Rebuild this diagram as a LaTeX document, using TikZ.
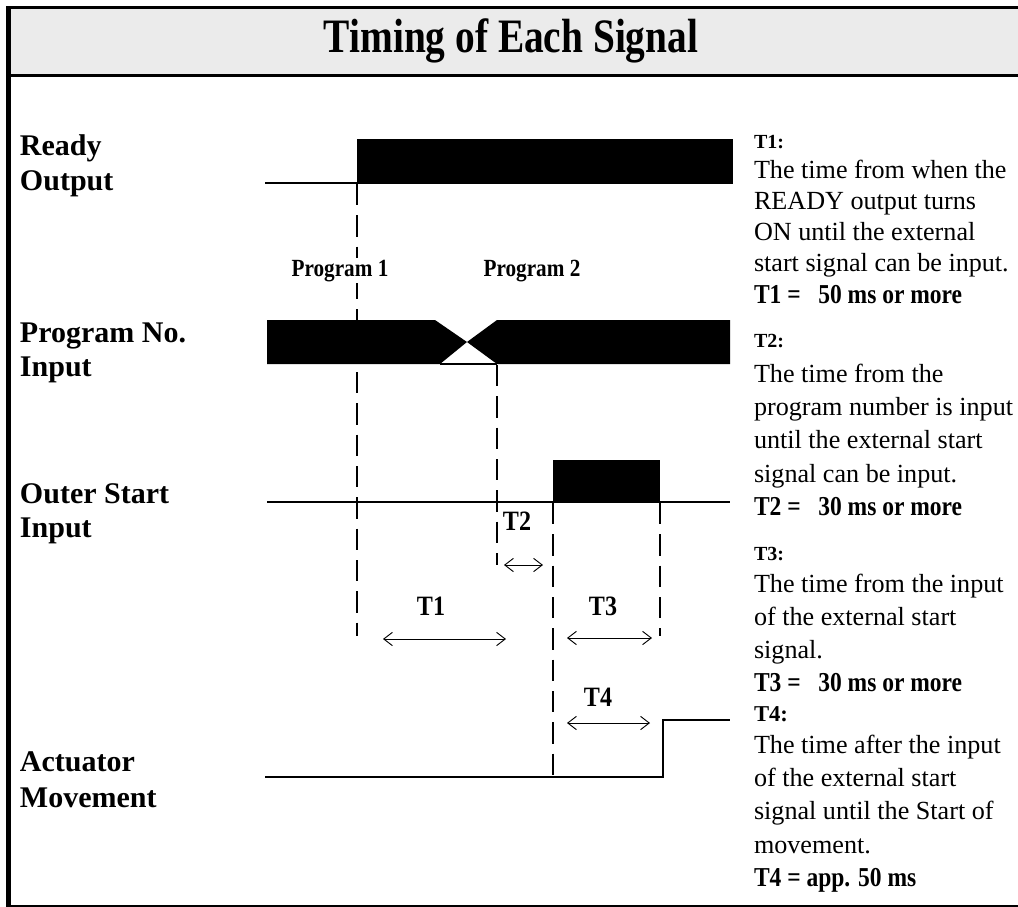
\documentclass[tikz,border=0pt]{standalone}
\usepackage{fontspec}
\setmainfont{Liberation Serif}
\newfontfamily\narrowserif[FakeStretch=0.86]{Liberation Serif}
\newfontfamily\titleserif[FakeStretch=0.82]{Liberation Serif}
\usetikzlibrary{arrows.meta}

\begin{document}
\begin{tikzpicture}[x=0.75pt,y=-0.75pt,
  txt/.style={anchor=base west,inner sep=0pt,outer sep=0pt},
  siglabel/.style={txt,font=\fontsize{22.5}{26}\selectfont\bfseries},
  desc/.style={txt,font=\fontsize{19.6}{23}\selectfont},
  deschead/.style={txt,font=\fontsize{15}{18}\selectfont\bfseries},
  descres/.style={txt,font=\narrowserif\fontsize{20.5}{24}\selectfont\bfseries},
  tlabel/.style={anchor=base,inner sep=0pt,font=\narrowserif\fontsize{21}{24}\selectfont\bfseries},
  proglabel/.style={anchor=base,inner sep=1pt,fill=white,font=\narrowserif\fontsize{18.5}{22}\selectfont\bfseries},
  wire/.style={line width=1.5pt},
  guide/.style={line width=1.5pt,dash pattern=on 16pt off 7.5pt},
  span/.style={line width=0.7pt,{Straight Barb[length=6.5pt,width=10pt]}-{Straight Barb[length=6.5pt,width=10pt]}}
]
\useasboundingbox (0,0) rectangle (1018,907);

% frame and title band
\fill[fill={rgb,255:red,235;green,235;blue,235}] (10,9) rectangle (1018,74);
\draw[line width=2.25pt] (6,7.5) -- (1018,7.5);
\draw[line width=2.6pt] (6,75.5) -- (1018,75.5);
\draw[line width=3.4pt] (8.3,6) -- (8.3,907);
\draw[line width=1.5pt] (6,905.8) -- (1018,905.8);
\node[inner sep=0pt,font=\titleserif\fontsize{36}{42}\selectfont\bfseries] (title) at (511,41) {Timing of Each Signal};

% signal names
\node[siglabel] (rdy1) at (20,155) {Ready};
\node[siglabel] (rdy2) at (20,190) {Output};
\node[siglabel] (prg1) at (20,342) {Program No.};
\node[siglabel] (prg2) at (20,376) {Input};
\node[siglabel] (st1) at (20,503) {Outer Start};
\node[siglabel] (st2) at (20,537) {Input};
\node[siglabel] (act1) at (20,771) {Actuator};
\node[siglabel] (act2) at (20,807) {Movement};

% READY output
\draw[wire] (265,183) -- (357,183);
\fill (357,138.5) rectangle (733,183.5);

% program number input
\fill (267,320) -- (435,320) -- (467,342) -- (440,364) -- (267,364) -- cycle;
\fill (467,342) -- (497,320) -- (730,320) -- (730,364) -- (497,364) -- cycle;
\draw[line width=0.8pt] (440,364) -- (497,364);

% outer start input
\draw[wire] (267,502) -- (553,502);
\fill (553,460) rectangle (660,503);
\draw[wire] (660,502) -- (730,502);

% actuator movement
\draw[wire] (265,777) -- (663,777) -- (663,720) -- (730,720);

% reference lines
\coordinate (g1a) at (357,184); \coordinate (g1b) at (357,636);
\coordinate (g2a) at (497,365); \coordinate (g2b) at (497,565);
\coordinate (g3a) at (553,503); \coordinate (g3b) at (553,776);
\coordinate (g4a) at (660,503); \coordinate (g4b) at (660,636);
\draw[guide] (g1a) -- (g1b);
\draw[guide] (g2a) -- (g2b);
\draw[guide] (g3a) -- (g3b);
\draw[guide] (g4a) -- (g4b);

% program labels sit over the first reference line
\node[proglabel] (p1) at (340,276) {Program 1};
\node[proglabel] (p2) at (532,276) {Program 2};

% interval spans
\coordinate (t1a) at (383,639); \coordinate (t1b) at (506,639);
\coordinate (t2a) at (504,565); \coordinate (t2b) at (543,565);
\coordinate (t3a) at (567,638); \coordinate (t3b) at (652,638);
\coordinate (t4a) at (567,723); \coordinate (t4b) at (650,723);
\draw[span] (t1a) -- (t1b);
\draw[span] (t2a) -- (t2b);
\draw[span] (t3a) -- (t3b);
\draw[span] (t4a) -- (t4b);
\node[tlabel] (lt1) at (431,615) {T1};
\node[tlabel] (lt2) at (517,530) {T2};
\node[tlabel] (lt3) at (603,615) {T3};
\node[tlabel] (lt4) at (598,706) {T4};

% descriptions
\node[deschead] (d1h) at (754,148) {T1:};
\node[desc] (d1a) at (754,178) {The time from when the};
\node[desc] (d1b) at (754,209) {READY output turns};
\node[desc] (d1c) at (754,240) {ON until the external};
\node[desc] (d1d) at (754,271) {start signal can be input.};
\node[descres] (d1r) at (754,303) {T1 =\ \ \ 50 ms or more};

\node[deschead] (d2h) at (754,347) {T2:};
\node[desc] (d2a) at (754,382) {The time from the};
\node[desc] (d2b) at (754,415) {program number is input};
\node[desc] (d2c) at (754,448) {until the external start};
\node[desc] (d2d) at (754,482) {signal can be input.};
\node[descres] (d2r) at (754,515) {T2 =\ \ \ 30 ms or more};

\node[deschead] (d3h) at (754,560) {T3:};
\node[desc] (d3a) at (754,592) {The time from the input};
\node[desc] (d3b) at (754,625) {of the external start};
\node[desc] (d3c) at (754,658) {signal.};
\node[descres] (d3r) at (754,691) {T3 =\ \ \ 30 ms or more};

\node[txt,font=\fontsize{17}{20}\selectfont\bfseries] (d4h) at (754,721) {T4:};
\node[desc] (d4a) at (754,753) {The time after the input};
\node[desc] (d4b) at (754,786) {of the external start};
\node[desc] (d4c) at (754,819) {signal until the Start of};
\node[desc] (d4d) at (754,853) {movement.};
\node[descres] (d4r) at (754,886) {T4 = app. 50 ms};
\end{tikzpicture}
\end{document}
